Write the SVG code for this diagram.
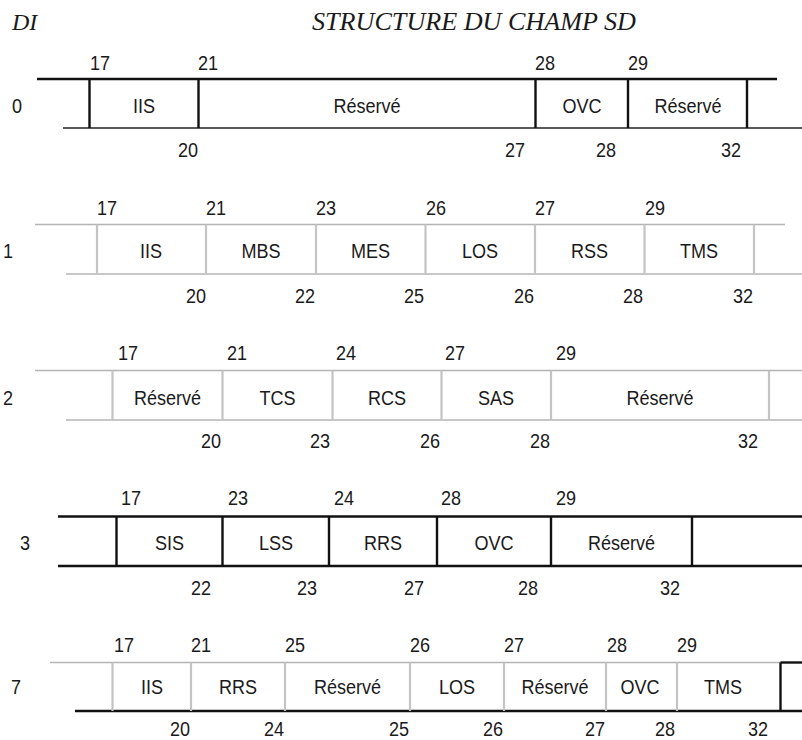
<svg xmlns="http://www.w3.org/2000/svg" width="802" height="740" viewBox="0 0 802 740">
<style>
text{font-family:"Liberation Sans",Arial,sans-serif;font-size:20.5px;fill:#1a1a1a;transform-box:fill-box;transform-origin:center;transform:scaleX(0.88)}
.t{font-family:"Liberation Serif","Times New Roman",serif;font-style:italic;font-size:24px;transform:none}
.tt{font-size:25.5px}
.c{text-anchor:middle}
.bk{stroke:#111;stroke-width:2.4;fill:none}
.bkt{stroke:#222;stroke-width:1.5;fill:none}
.gl{stroke:#b4b4b4;stroke-width:1.6;fill:none}
.gv{stroke:#c4c4c4;stroke-width:2.2;fill:none}
</style>
<rect width="802" height="740" fill="#fff"/>
<g id="title">
<text class="t" x="12" y="30">DI</text>
<text class="t tt" x="312" y="30" textLength="324" lengthAdjust="spacingAndGlyphs">STRUCTURE DU CHAMP SD</text>
</g>
<g id="row0">
<line class="bk" x1="37" y1="79" x2="777" y2="79"/>
<line class="bkt" x1="63" y1="128" x2="802" y2="128"/>
<path class="bk" d="M89.5 79V128M198.5 79V128M535.5 79V128M628 79V128M747 79V128"/>
<text class="c" x="17" y="113">0</text>
<text class="c" x="144" y="113">IIS</text>
<text class="c" x="367" y="113">Réservé</text>
<text class="c" x="582" y="113">OVC</text>
<text class="c" x="688" y="113">Réservé</text>
<text class="c" x="100" y="70">17</text>
<text class="c" x="208" y="70">21</text>
<text class="c" x="545" y="70">28</text>
<text class="c" x="638" y="70">29</text>
<text class="c" x="188" y="157">20</text>
<text class="c" x="515" y="157">27</text>
<text class="c" x="606" y="157">28</text>
<text class="c" x="731" y="157">32</text>
</g>
<g id="row1">
<line class="gl" x1="35" y1="224.5" x2="785" y2="224.5"/>
<line class="gl" x1="66" y1="274" x2="802" y2="274"/>
<path class="gv" d="M97 224.5V274M206 224.5V274M316 224.5V274M425.5 224.5V274M535 224.5V274M644.5 224.5V274M754 224.5V274"/>
<text class="c" x="8" y="258">1</text>
<text class="c" x="151" y="258">IIS</text>
<text class="c" x="261" y="258">MBS</text>
<text class="c" x="370.5" y="258">MES</text>
<text class="c" x="480" y="258">LOS</text>
<text class="c" x="589.5" y="258">RSS</text>
<text class="c" x="699" y="258">TMS</text>
<text class="c" x="107" y="215">17</text>
<text class="c" x="216" y="215">21</text>
<text class="c" x="326" y="215">23</text>
<text class="c" x="436" y="215">26</text>
<text class="c" x="545" y="215">27</text>
<text class="c" x="655" y="215">29</text>
<text class="c" x="196" y="303">20</text>
<text class="c" x="305" y="303">22</text>
<text class="c" x="414" y="303">25</text>
<text class="c" x="524" y="303">26</text>
<text class="c" x="633" y="303">28</text>
<text class="c" x="743" y="303">32</text>
</g>
<g id="row2">
<line class="gl" x1="35" y1="370.5" x2="802" y2="370.5"/>
<line class="gl" x1="66" y1="420" x2="802" y2="420"/>
<path class="gv" d="M112.5 370.5V420M222.5 370.5V420M332.5 370.5V420M441.5 370.5V420M551 370.5V420M769 370.5V420"/>
<text class="c" x="8" y="405">2</text>
<text class="c" x="167.5" y="405">Réservé</text>
<text class="c" x="277.5" y="405">TCS</text>
<text class="c" x="387" y="405">RCS</text>
<text class="c" x="496" y="405">SAS</text>
<text class="c" x="660" y="405">Réservé</text>
<text class="c" x="128" y="360">17</text>
<text class="c" x="237" y="360">21</text>
<text class="c" x="346" y="360">24</text>
<text class="c" x="455" y="360">27</text>
<text class="c" x="566" y="360">29</text>
<text class="c" x="211" y="448">20</text>
<text class="c" x="320" y="448">23</text>
<text class="c" x="430" y="448">26</text>
<text class="c" x="540" y="448">28</text>
<text class="c" x="748" y="448">32</text>
</g>
<g id="row3">
<line class="bk" x1="58" y1="516.5" x2="802" y2="516.5"/>
<line class="bk" x1="58" y1="566" x2="802" y2="566"/>
<path class="bk" d="M116.5 516.5V566M222.5 516.5V566M329 516.5V566M437 516.5V566M551 516.5V566M692 516.5V566"/>
<text class="c" x="25" y="550">3</text>
<text class="c" x="169.5" y="550">SIS</text>
<text class="c" x="276" y="550">LSS</text>
<text class="c" x="383" y="550">RRS</text>
<text class="c" x="494" y="550">OVC</text>
<text class="c" x="621.5" y="550">Réservé</text>
<text class="c" x="131" y="505">17</text>
<text class="c" x="238" y="505">23</text>
<text class="c" x="344" y="505">24</text>
<text class="c" x="451" y="505">28</text>
<text class="c" x="566" y="505">29</text>
<text class="c" x="201" y="595">22</text>
<text class="c" x="307" y="595">23</text>
<text class="c" x="414" y="595">27</text>
<text class="c" x="528" y="595">28</text>
<text class="c" x="670" y="595">32</text>
</g>
<g id="row7">
<line class="gl" x1="50" y1="662.5" x2="780.5" y2="662.5"/>
<line class="bk" x1="780.5" y1="662.5" x2="802" y2="662.5"/>
<line class="bk" x1="75" y1="711" x2="802" y2="711"/>
<path class="gv" d="M112.5 662.5V711M191 662.5V711M285 662.5V711M410 662.5V711M504 662.5V711M606 662.5V711M677 662.5V711"/>
<path class="bk" d="M780.5 662.5V711"/>
<text class="c" x="16" y="694">7</text>
<text class="c" x="152" y="694">IIS</text>
<text class="c" x="238" y="694">RRS</text>
<text class="c" x="347.5" y="694">Réservé</text>
<text class="c" x="457" y="694">LOS</text>
<text class="c" x="555" y="694">Réservé</text>
<text class="c" x="640" y="694">OVC</text>
<text class="c" x="723" y="694">TMS</text>
<text class="c" x="124" y="652">17</text>
<text class="c" x="201" y="652">21</text>
<text class="c" x="295" y="652">25</text>
<text class="c" x="420" y="652">26</text>
<text class="c" x="514" y="652">27</text>
<text class="c" x="617" y="652">28</text>
<text class="c" x="687" y="652">29</text>
<text class="c" x="180" y="736">20</text>
<text class="c" x="274" y="736">24</text>
<text class="c" x="399" y="736">25</text>
<text class="c" x="493" y="736">26</text>
<text class="c" x="595" y="736">27</text>
<text class="c" x="665" y="736">28</text>
<text class="c" x="758" y="736">32</text>
</g>
</svg>
